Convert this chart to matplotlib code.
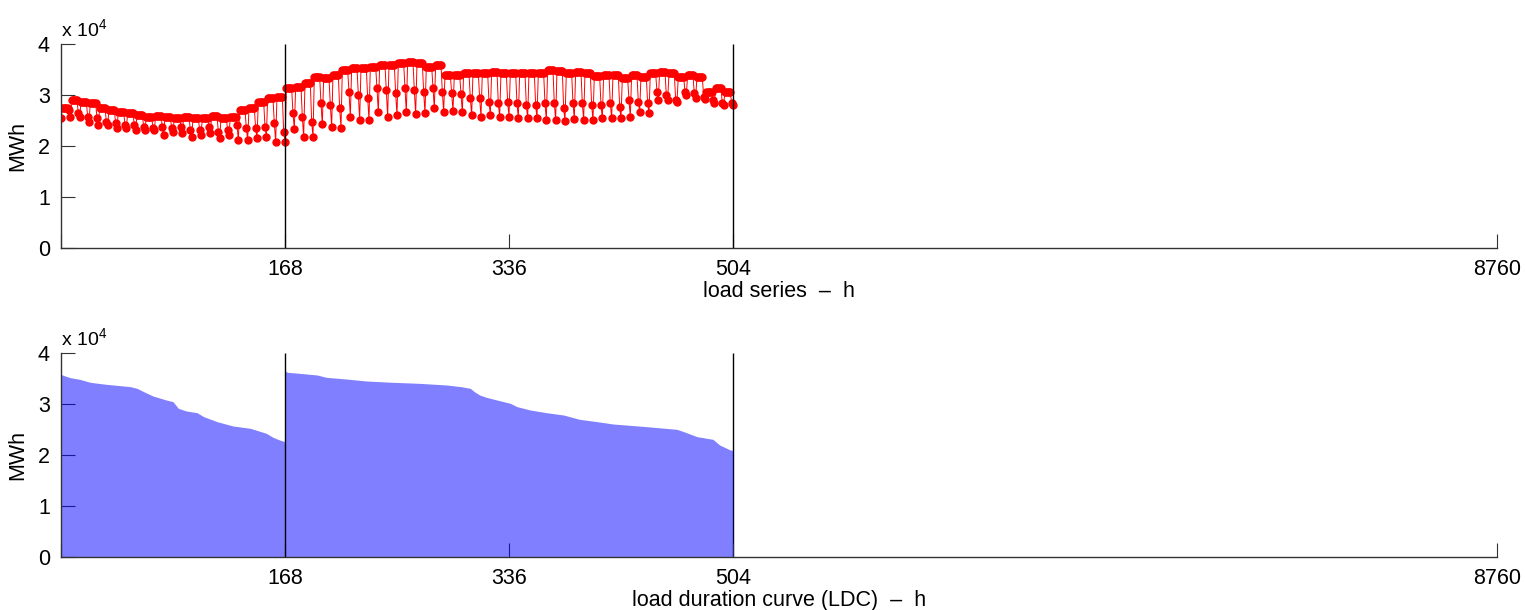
import matplotlib.pyplot as plt
import numpy as np

plt.rcParams['font.family'] = ['Liberation Sans', 'DejaVu Sans']
plt.rcParams['mathtext.default'] = 'regular'
plt.rcParams['font.size'] = 15.5

# hourly load, read per 7-hour block: plateau value, then the two dip points
load_start = 25500
block_up = [27400, 29000, 28700, 28400, 27500, 27100, 26700, 26400, 26100, 25750, 25950, 25750,
            25400, 25750, 25400, 25400, 25950, 25400, 25750, 27100, 27400, 28700, 29350, 29700,
            31300, 31630, 32290, 33600, 33270, 33920, 34900, 35230, 35230, 35560, 35880, 35880,
            36210, 36540, 36210, 35560, 35880, 33920, 33920, 34250, 34250, 34250, 34580, 34250,
            34250, 34310, 34250, 34310, 34900, 34770, 34250, 34580, 34250, 33760, 33920, 33920,
            33270, 33920, 33600, 34250, 34580, 34250, 33600, 33920, 33600, 30650, 31310, 30650]
block_mid = [27060, 26400, 25750, 25430, 24770, 24440, 24120, 24120, 23790, 23460, 23790, 23460,
             23790, 23140, 23140, 23790, 22810, 23140, 24120, 23460, 23460, 23790, 24440, 22810,
             26400, 25750, 24770, 28370, 28040, 27390, 30650, 30000, 29480, 31310, 30980, 30330,
             31440, 30980, 30650, 31310, 30650, 30330, 30130, 29350, 29350, 28690, 28370, 28690,
             28370, 28040, 28040, 28370, 28370, 27390, 28370, 28370, 28040, 28040, 28370, 27710,
             29020, 28690, 28370, 30650, 30000, 29020, 30650, 30330, 29670, 29020, 28370, 28370]
block_low = [25750, 25620, 24770, 24120, 24120, 23460, 23460, 23140, 23140, 23140, 22160, 22810,
             22480, 21830, 22160, 22480, 21500, 22160, 21180, 21180, 21500, 21830, 20850, 20850,
             23330, 21760, 21760, 24250, 23790, 23600, 25750, 25100, 25100, 26600, 25750, 26080,
             26600, 26210, 26400, 27390, 26730, 26860, 26600, 26080, 25750, 26080, 25750, 25750,
             25430, 25430, 25430, 25100, 25100, 24970, 25230, 25100, 25100, 25430, 25430, 25430,
             25750, 26730, 26400, 29020, 29020, 28690, 30000, 29350, 29150, 28370, 28040, 28040]

# load duration curve breakpoints (hour, MWh)
ldc1_h = [0, 3, 7, 14, 22, 34, 52, 57, 62, 69, 79, 84, 88, 94, 102, 107, 117, 129, 142, 154, 159, 164, 168]
ldc1_v = [35800, 35500, 35160, 34840, 34250, 33860, 33400, 33070, 32420, 31570, 30780, 30460, 29150,
          28630, 28300, 27520, 26540, 25690, 25230, 24250, 23470, 22940, 22600]
ldc2_h = [168, 170, 179, 192, 199, 214, 229, 249, 269, 289, 300, 307, 310, 314, 319, 327, 337, 342,
          352, 364, 377, 389, 402, 414, 439, 462, 467, 477, 489, 494, 502, 504]
ldc2_v = [36470, 36210, 36010, 35690, 35230, 34900, 34510, 34250, 34050, 33730, 33400, 33070, 32420,
          31770, 31310, 30780, 30130, 29480, 28820, 28300, 27840, 26990, 26540, 26080, 25560, 25030,
          24580, 23600, 23070, 21960, 20980, 20900]

xtick_pos = [0, 168, 336, 504, 1077]
xtick_lab = ['', '168', '336', '504', '8760']
week_marks = [168, 504]

load = [load_start]
for u, m, l in zip(block_up, block_mid, block_low):
    load += [u] * 5 + [m, l]
hours = np.arange(len(load))

fig = plt.figure(figsize=(15.25, 6.1), dpi=100)
ax1 = fig.add_axes([0.04, 0.5934, 0.9416, 0.3344])
ax2 = fig.add_axes([0.04, 0.0869, 0.9416, 0.3344])

ax1.plot(hours, load, '-', color='red', lw=0.7, marker='o', ms=5, mec='red', mfc='red', zorder=2)
ax1.vlines(week_marks, 0, 40000, color='black', lw=1, zorder=3)

ax2.fill_between(ldc1_h, ldc1_v, 0, color='blue', alpha=0.5, lw=0, zorder=2)
ax2.fill_between(ldc2_h, ldc2_v, 0, color='blue', alpha=0.5, lw=0, zorder=2)
ax2.vlines([168], 0, 40000, color='black', lw=1, zorder=3)
ax2.vlines([504], 0, 40000, color='black', lw=1, zorder=1)

for ax, lab in [(ax1, 'load series  \u2013  h'), (ax2, 'load duration curve (LDC)  \u2013  h')]:
    ax.set_xlim(0, 1077)
    ax.set_ylim(0, 40000)
    ax.set_xticks(xtick_pos)
    ax.set_xticklabels(xtick_lab)
    ax.set_yticks([0, 10000, 20000, 30000, 40000])
    ax.set_yticklabels(['0', '1', '2', '3', '4'])
    ax.tick_params(direction='in', length=10, width=0.8, color='#333333', pad=8)
    for s in ['top', 'right']:
        ax.spines[s].set_visible(False)
    for s in ['left', 'bottom']:
        ax.spines[s].set_color('#333333')
        ax.spines[s].set_linewidth(1)
    ax.set_xlabel(lab, labelpad=0.5)
    ax.set_ylabel('MWh', labelpad=7)
    ax.text(0.0, 1.04, 'x 10$^4$', transform=ax.transAxes, fontsize=14, va='baseline', ha='left')

fig.savefig('out.png', dpi=100)
